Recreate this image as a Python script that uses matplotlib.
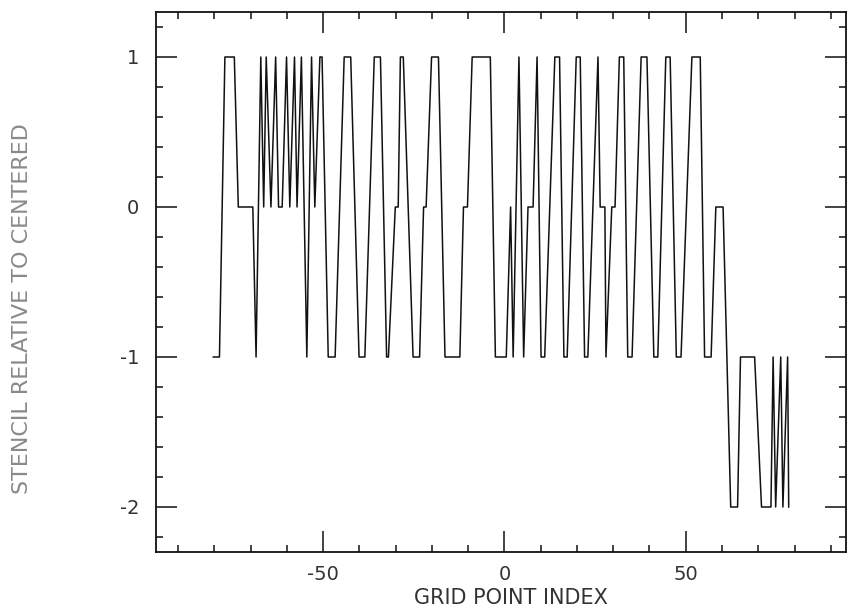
import matplotlib.pyplot as plt
from matplotlib.ticker import MultipleLocator
import numpy as np

plt.rcParams['font.family'] = ['DejaVu Sans']
plt.rcParams['axes.unicode_minus'] = False

# vertices of the traced curve: grid point index vs stencil offset
grid_index = [-80.3, -78.6, -77.1, -74.5, -73.4, -69.4, -68.5, -67.2,
              -66.4, -65.7, -64.4, -63.1, -62.3, -61.3, -60.1, -59.2, -57.9, -57.2, -56.0,
              -54.5, -53.2, -52.3, -50.9, -50.3, -48.6, -46.7, -44.2, -42.4, -40.1, -38.5,
              -35.9, -34.2, -32.5, -32.0, -30.1, -29.3, -28.7, -27.9, -25.2, -23.4,
              -22.3, -21.6, -20.1, -18.2, -16.4, -12.3, -11.3, -10.2, -8.9, -3.9,
              -2.5, 0.5, 1.7, 2.4, 4.0, 5.3, 6.5, 7.9, 9.0, 10.1, 11.1, 13.9, 15.2,
              16.4, 17.3, 19.8, 20.9, 22.1, 23.0, 25.8, 26.4, 27.7, 28.0, 29.6, 30.5,
              31.7, 32.9, 34.0, 35.2, 37.7, 39.3, 41.2, 42.3, 44.5, 45.7, 47.4, 48.7,
              51.7, 54.0, 55.2, 57.0, 58.3, 60.3, 62.4, 64.3, 65.1, 69.0, 70.9, 73.5,
              74.1, 74.8, 76.2, 76.8, 78.1, 78.4]
stencil_offset = [-1, -1, 1, 1, 0, 0, -1, 1,
                  0, 1, 0, 1, 0, 0, 1, 0, 1, 0, 1,
                  -1, 1, 0, 1, 1, -1, -1, 1, 1, -1, -1,
                  1, 1, -1, -1, 0, 0, 1, 1, -1, -1,
                  0, 0, 1, 1, -1, -1, 0, 0, 1, 1,
                  -1, -1, 0, -1, 1, -1, 0, 0, 1, -1, -1, 1, 1,
                  -1, -1, 1, 1, -1, -1, 1, 0, 0, -1, 0, 0,
                  1, 1, -1, -1, 1, 1, -1, -1, 1, 1, -1, -1,
                  1, 1, -1, -1, 0, 0, -2, -2, -1, -1, -2, -2,
                  -1, -2, -1, -2, -1, -2]

x_ticks = [-50, 0, 50]
y_ticks = [-2, -1, 0, 1]

fig = plt.figure(figsize=(8.48, 6.15), dpi=100)
ax = fig.add_axes([156 / 848, 1 - 552 / 615, 690 / 848, 540 / 615])

ax.plot(grid_index, stencil_offset, color='#111111', lw=1.1, solid_joinstyle='round')

ax.set_xlim(-96.1, 94.2)
ax.set_ylim(-2.3, 1.3)
ax.set_xticks(x_ticks)
ax.set_yticks(y_ticks)
ax.set_xticklabels([str(v) for v in x_ticks])
ax.set_yticklabels([str(v) for v in y_ticks])
ax.xaxis.set_minor_locator(MultipleLocator(10))
ax.yaxis.set_minor_locator(MultipleLocator(0.2))

# old plotter style: inward ticks on all four sides
ax.tick_params(which='both', direction='in', top=True, right=True, width=1.1, colors='#111111')
ax.tick_params(which='major', length=15, labelsize=14, labelcolor='#333333')
ax.tick_params(axis='x', which='major', pad=9)
ax.tick_params(axis='y', which='major', pad=12)
ax.tick_params(which='minor', length=5)
for s in ax.spines.values():
    s.set_linewidth(1.3)
    s.set_color('#111111')

fig.text(511 / 848, 1 - 598 / 615, 'GRID POINT INDEX', ha='center', va='center',
         fontsize=15, color='#333333')
fig.text(22 / 848, 1 - 309 / 615, 'STENCIL RELATIVE TO CENTERED', ha='center', va='center',
         rotation=90, fontsize=16, color='#8a8a8a')

fig.savefig('out.png', dpi=100)
